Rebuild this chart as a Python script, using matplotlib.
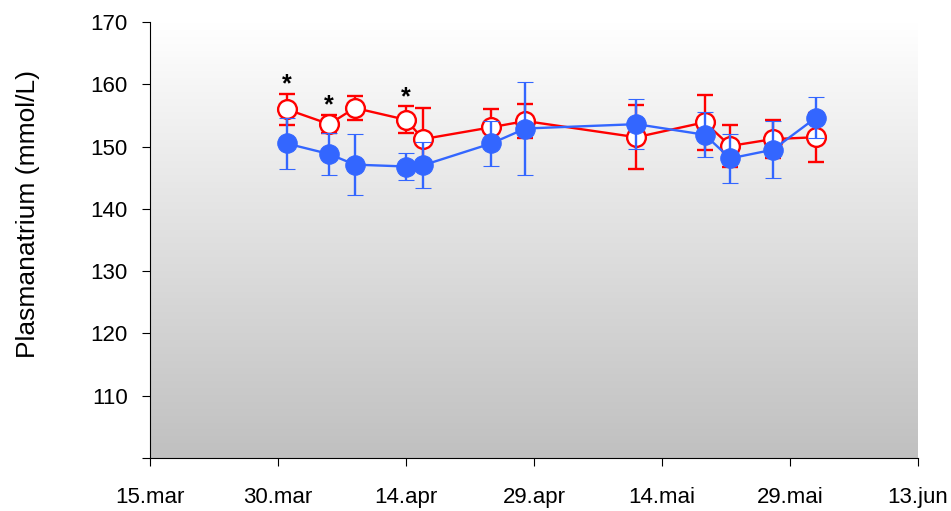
import datetime as dt
import numpy as np
import matplotlib
matplotlib.use("Agg")
import matplotlib.pyplot as plt
import matplotlib.dates as mdates

plt.rcParams['font.family'] = ['Liberation Sans', 'DejaVu Sans']

dates = ["2003-03-31", "2003-04-05", "2003-04-08", "2003-04-14", "2003-04-16",
         "2003-04-24", "2003-04-28", "2003-05-11", "2003-05-19", "2003-05-22",
         "2003-05-27", "2003-06-01"]
red_mean = [156.0, 153.6, 156.2, 154.3, 151.2, 153.1, 154.1, 151.5, 153.9, 150.1, 151.2, 151.5]
red_err = [2.5, 1.5, 1.9, 2.2, 5.0, 2.9, 2.8, 5.1, 4.4, 3.3, 3.0, 3.9]
blue_mean = [150.5, 148.8, 147.1, 146.8, 147.0, 150.5, 152.9, 153.6, 151.9, 148.1, 149.5, 154.6]
blue_err = [4.1, 3.4, 4.9, 2.2, 3.7, 3.6, 7.4, 4.0, 3.6, 3.9, 4.6, 3.3]

star_dates = ["2003-03-31", "2003-04-05", "2003-04-14"]
star_y = [160.0, 156.6, 157.9]

xtick_dates = ["2003-03-15", "2003-03-30", "2003-04-14", "2003-04-29",
               "2003-05-14", "2003-05-29", "2003-06-13"]
xtick_labels = ["15.mar", "30.mar", "14.apr", "29.apr", "14.mai", "29.mai", "13.jun"]
yticks = [100, 110, 120, 130, 140, 150, 160, 170]
ytick_labels = ["", "110", "120", "130", "140", "150", "160", "170"]
ylabel = "Plasmanatrium (mmol/L)"

to_d = lambda s: mdates.date2num(dt.datetime.strptime(s, "%Y-%m-%d"))
x = np.array([to_d(s) for s in dates])
xt = np.array([to_d(s) for s in xtick_dates])
xs = np.array([to_d(s) for s in star_dates])

fig = plt.figure(figsize=(9.51, 5.11), dpi=100)
ax = fig.add_axes([150/951, 53/511, 768/951, 436/511])

xmin, xmax = xt[0], xt[-1]
ymin, ymax = 100, 170
grad = np.linspace(1.0, 0.0, 256).reshape(-1, 1)
ax.imshow(grad, extent=[xmin, xmax, ymin, ymax], aspect='auto',
          cmap=matplotlib.colors.LinearSegmentedColormap.from_list('g', ['#c0c0c0', '#ffffff']),
          vmin=0, vmax=1, zorder=0, origin='upper')

red = '#ff0000'
blue = '#3366ff'
ax.errorbar(x, red_mean, yerr=red_err, color=red, lw=1.7, elinewidth=1.7,
            capsize=5.5, capthick=1.7, marker='o', markersize=13.5,
            markerfacecolor='white', markeredgecolor=red, markeredgewidth=1.7, zorder=3)
ax.errorbar(x, blue_mean, yerr=blue_err, color=blue, lw=1.7, elinewidth=1.7,
            capsize=5.5, capthick=1.7, marker='o', markersize=14,
            markerfacecolor=blue, markeredgecolor=blue, markeredgewidth=0.8, zorder=4)

for sx, sy in zip(xs, star_y):
    ax.text(sx, sy, "*", ha='center', va='center', fontsize=18, fontweight='bold',
            color='black', zorder=5)

ax.set_xlim(xmin, xmax)
ax.set_ylim(ymin, ymax)
ax.set_xticks(xt)
ax.set_xticklabels(xtick_labels, fontsize=16)
ax.set_yticks(yticks)
ax.set_yticklabels(ytick_labels, fontsize=16)
ax.tick_params(axis='x', direction='out', length=6, width=0.8, pad=15)
ax.tick_params(axis='y', direction='out', length=6, width=0.8, pad=10)
ax.set_ylabel(ylabel, fontsize=19)
ax.yaxis.set_label_coords(-0.143, 0.56)
for s in ['top', 'right']:
    ax.spines[s].set_visible(False)
for s in ['left', 'bottom']:
    ax.spines[s].set_linewidth(0.8)

fig.savefig("out.png", dpi=100)
